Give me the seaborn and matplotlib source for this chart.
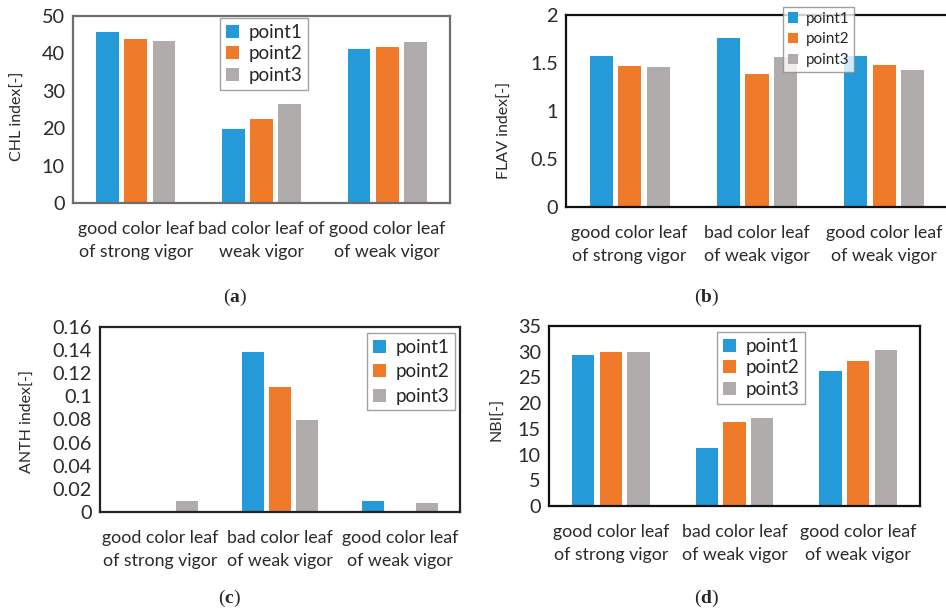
import pandas as pd
import matplotlib
matplotlib.use("Agg")
import matplotlib.pyplot as plt
import seaborn as sns

# ---- data ----
groups = ["good color leaf\nof strong vigor", "bad color leaf\nof weak vigor", "good color leaf\nof weak vigor"]
groups_a = ["good color leaf\nof strong vigor", "bad color leaf of\nweak vigor", "good color leaf\nof weak vigor"]
points = ["point1", "point2", "point3"]

chl_values = [[45.6, 19.8, 41.2], [43.8, 22.4, 41.7], [43.4, 26.5, 43.0]]
flav_values = [[1.57, 1.76, 1.57], [1.47, 1.39, 1.48], [1.46, 1.56, 1.43]]
anth_values = [[0.0, 0.138, 0.0092], [0.0, 0.108, 0.0], [0.0092, 0.080, 0.0075]]
nbi_values = [[29.3, 11.3, 26.2], [29.9, 16.3, 28.1], [29.9, 17.2, 30.3]]

chl_ticks = [0, 10, 20, 30, 40, 50]
chl_ticklabels = ["0", "10", "20", "30", "40", "50"]
flav_ticks = [0, 0.5, 1, 1.5, 2]
flav_ticklabels = ["0", "0.5", "1", "1.5", "2"]
anth_ticks = [0, 0.02, 0.04, 0.06, 0.08, 0.1, 0.12, 0.14, 0.16]
anth_ticklabels = ["0", "0.02", "0.04", "0.06", "0.08", "0.1", "0.12", "0.14", "0.16"]
nbi_ticks = [0, 5, 10, 15, 20, 25, 30, 35]
nbi_ticklabels = ["0", "5", "10", "15", "20", "25", "30", "35"]

colors = ["#259ad8", "#ee7a2a", "#b0acab"]

sns.set_style("white")
plt.rcParams["font.family"] = ["Lato", "DejaVu Sans"]
plt.rcParams["mathtext.fontset"] = "custom"
plt.rcParams["mathtext.rm"] = "Liberation Serif"
plt.rcParams["mathtext.bf"] = "Liberation Serif:bold"

W, H = 946, 611
fig = plt.figure(figsize=(W / 100, H / 100), dpi=100)


def px_axes(left, top, right, bottom):
    # axes box given in pixel coords of the 946x611 picture
    return fig.add_axes([left / W, 1 - bottom / H, (right - left) / W, (bottom - top) / H])


def draw_panel(ax, cats, values, ticks, ticklabels, ylabel, label_xy, spine_color,
               legend_box, legend_size, legend_spacing):
    rows = []
    for p, vals in zip(points, values):
        for c, v in zip(cats, vals):
            rows.append({"group": c, "point": p, "value": v})
    df = pd.DataFrame(rows)
    sns.barplot(data=df, x="group", y="value", hue="point", palette=colors,
                width=0.67, gap=0.19, ax=ax, saturation=1, edgecolor="none")
    ax.set_xlim(-0.5, 2.5)
    ax.set_ylim(ticks[0], ticks[-1])
    ax.set_yticks(ticks)
    ax.set_yticklabels(ticklabels, fontsize=14.3, color="#2a2a2a")
    ax.set_xlabel("")
    ax.set_ylabel(ylabel, fontsize=11.5, color="#2a2a2a")
    ax.yaxis.set_label_coords(*label_xy)
    ax.tick_params(axis="both", length=0)
    ax.tick_params(axis="x", pad=13)
    ax.tick_params(axis="y", pad=6)
    for lab in ax.get_xticklabels():
        lab.set_fontsize(12.8)
        lab.set_linespacing(1.5)
        lab.set_color("#2a2a2a")
    for s in ax.spines.values():
        s.set_color(spine_color)
        s.set_linewidth(1.6)
    ax.get_legend().remove()
    leg = ax.legend(loc="upper left", bbox_to_anchor=(legend_box[0] / W, 1 - legend_box[1] / H),
                    bbox_transform=fig.transFigure, fontsize=legend_size, frameon=True,
                    fancybox=False, handlelength=0.7, handleheight=0.7, handletextpad=0.5,
                    borderaxespad=0, borderpad=0.3, labelspacing=legend_spacing)
    leg.get_frame().set_edgecolor("#8a8a8a")
    leg.get_frame().set_linewidth(1.0)


ax_a = px_axes(73, 16, 450, 203)
draw_panel(ax_a, groups_a, chl_values, chl_ticks, chl_ticklabels, "CHL index[-]",
           (-0.127, 0.465), "#6e6e6e", (220, 18), 13.5, 0.25)

ax_b = px_axes(566, 15, 948, 207)
draw_panel(ax_b, groups, flav_values, flav_ticks, flav_ticklabels, "FLAV index[-]",
           (-0.142, 0.40), "#111111", (783, 7), 11, 0.45)

ax_c = px_axes(100, 327, 460, 512)
draw_panel(ax_c, groups, anth_values, anth_ticks, anth_ticklabels, "ANTH index[-]",
           (-0.18, 0.49), "#222222", (367, 333), 13.5, 0.4)

ax_d = px_axes(549, 326, 920, 506)
draw_panel(ax_d, groups, nbi_values, nbi_ticks, nbi_ticklabels, "NBI[-]",
           (-0.119, 0.48), "#111111", (717, 332), 13.5, 0.25)

# panel captions
for letter, (x, y) in zip("abcd", [(235, 297), (707, 297), (229, 598), (707, 598)]):
    fig.text(x / W, 1 - y / H, r"($\mathbf{" + letter + r"}$)", ha="center", va="center",
             fontsize=14, family="Liberation Serif")

fig.savefig("out.png", dpi=100)
